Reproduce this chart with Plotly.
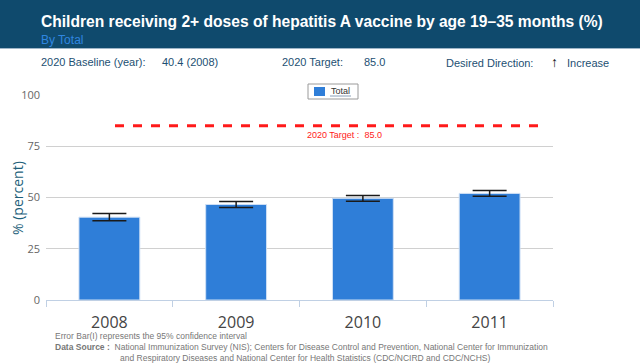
import plotly.graph_objects as go

years = ["2008", "2009", "2010", "2011"]
values = [40.4, 46.6, 49.6, 52.0]
ci_err = [1.8, 1.5, 1.4, 1.4]
target_value = 85.0
y_ticks = [0, 25, 50, 75, 100]

W, H = 640, 364
L, R, T, B = 46, 553, 95, 300  # plot area pixel box


def px(x):
    return (x - L) / (R - L)


def py(y):
    return (B - y) / (B - T)


fig = go.Figure()
fig.add_trace(go.Bar(
    x=years, y=values, name="Total",
    marker=dict(color="#2f7ed8", line=dict(color="#cfe0f5", width=1)),
    width=0.48,
    error_y=dict(type="data", array=ci_err, color="#1a1a1a", thickness=1.5, width=17),
    showlegend=False,
))

fig.add_shape(type="line", xref="paper", yref="y", x0=px(115), x1=px(538),
              y0=target_value, y1=target_value,
              line=dict(color="#ff1a1a", width=3, dash="dash"))

ann = []
# header band
fig.add_shape(type="rect", xref="paper", yref="paper", x0=px(0), x1=px(W), y0=py(48), y1=py(0),
              fillcolor="#0f4a6d", line=dict(width=0), layer="below")
fig.add_shape(type="line", xref="paper", yref="paper", x0=px(0), x1=px(W), y0=py(48.5), y1=py(48.5),
              line=dict(color="#9fb6c8", width=1))

# legend box (drawn manually to match the compact original)
fig.add_shape(type="rect", xref="paper", yref="paper", x0=px(308), x1=px(358), y0=py(99), y1=py(84),
              fillcolor="white", line=dict(color="#9a9a9a", width=1), layer="above")
fig.add_shape(type="rect", xref="paper", yref="paper", x0=px(314), x1=px(325), y0=py(96), y1=py(87),
              fillcolor="#2f7ed8", line=dict(width=0), layer="above")
fig.add_shape(type="line", xref="paper", yref="paper", x0=px(330), x1=px(351), y0=py(96), y1=py(96),
              line=dict(color="#8aa0b8", width=1), layer="above")


def text(x, y, s, size, color, family="Liberation Sans, Arial", xanchor="left", bold=False):
    if bold:
        s = "<b>" + s + "</b>"
    ann.append(dict(x=px(x), y=py(y), xref="paper", yref="paper", text=s, showarrow=False,
                    xanchor=xanchor, yanchor="middle", font=dict(size=size, color=color, family=family)))


text(39, 22, "Children receiving 2+ doses of hepatitis A vaccine by age 19\u201335 months (%)", 15.6, "white", bold=True)
text(39, 40, "By Total", 12, "#2f86e0")
info_c = "#1d4f72"
text(39, 62, "2020 Baseline (year):", 11, info_c)
text(160, 62, "40.4 (2008)", 11, info_c)
text(280, 62, "2020 Target:", 11, info_c)
text(362, 62, "85.0", 11, info_c)
text(444, 63, "Desired Direction:", 11, info_c)
text(549, 62, "\u2191", 14, "#111111", bold=True)
text(565, 63, "Increase", 11, info_c)
text(329, 91, "Total", 9, "#333333")
text(305, 135, "2020 Target :  85.0", 9, "#ff1a1a")
text(53, 336, "Error Bar(I) represents the 95% confidence interval", 8.5, "#777777")
text(53, 347, "<b>Data Source :</b>  National Immunization Survey (NIS); Centers for Disease Control and Prevention, National Center for Immunization", 8.5, "#777777")
text(118, 358, "and Respiratory Diseases and National Center for Health Statistics (CDC/NCIRD and CDC/NCHS)", 8.5, "#777777")
ann.append(dict(x=px(17), y=py(198), xref="paper", yref="paper", text="% (percent)", showarrow=False,
                textangle=-90, xanchor="center", yanchor="middle",
                font=dict(size=14, color="#1e5f7a", family="Open Sans")))

fig.update_layout(
    width=W, height=H,
    margin=dict(l=L, r=W - R, t=T, b=H - B, pad=0),
    paper_bgcolor="white", plot_bgcolor="white",
    annotations=ann,
    showlegend=False,
    xaxis=dict(type="category", tickson="boundaries", ticks="outside", ticklen=6,
               tickcolor="#c0d0e4", showline=True, linecolor="#c0d0e4", linewidth=1,
               showgrid=False, ticklabelstandoff=8,
               tickfont=dict(size=16, color="#444444", family="Open Sans"),
               range=[-0.5, 3.5]),
    yaxis=dict(range=[0, 100], tickvals=y_ticks, showgrid=True, gridcolor="#d0d0d0", gridwidth=1,
               zeroline=False, ticks="", ticklabelstandoff=5,
               tickfont=dict(size=11, color="#666666", family="Open Sans")),
)

fig.write_html("out.html", config={"displayModeBar": False},
               post_script="document.body.style.margin='0';")
